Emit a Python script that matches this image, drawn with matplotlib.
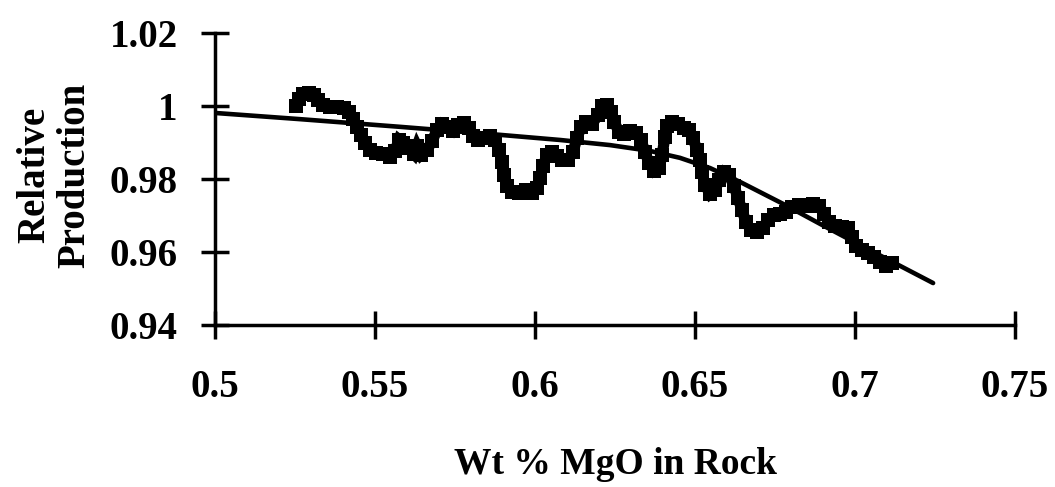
import matplotlib
matplotlib.use("Agg")
import matplotlib.pyplot as plt
import numpy as np

# Data (Wt % MgO vs relative production)
mgo = [0.5253, 0.5263, 0.5275, 0.5294, 0.5309, 0.5322, 0.5338, 0.5359, 0.5381, 0.5403,
       0.5419, 0.5431, 0.5444, 0.5456, 0.5469, 0.5484, 0.5503, 0.5525, 0.5547, 0.5563,
       0.5575, 0.5588, 0.5603, 0.5622, 0.5631, 0.5644, 0.5663, 0.5678, 0.5694, 0.5709,
       0.5728, 0.5744, 0.5759, 0.5778, 0.5794, 0.5806, 0.5822, 0.5841, 0.5859, 0.5875,
       0.5888, 0.5897, 0.5903, 0.5913, 0.5928, 0.5950, 0.5972, 0.5991, 0.6006, 0.6016,
       0.6025, 0.6038, 0.6053, 0.6069, 0.6084, 0.6103, 0.6119, 0.6131, 0.6144, 0.6159,
       0.6178, 0.6197, 0.6209, 0.6225, 0.6238, 0.6247, 0.6263, 0.6278, 0.6297, 0.6316,
       0.6331, 0.6344, 0.6356, 0.6372, 0.6388, 0.6397, 0.6406, 0.6413, 0.6428, 0.6447,
       0.6466, 0.6481, 0.6494, 0.6506, 0.6516, 0.6522, 0.6531, 0.6547, 0.6563, 0.6575,
       0.6591, 0.6606, 0.6622, 0.6634, 0.6647, 0.6659, 0.6675, 0.6694, 0.6713, 0.6728,
       0.6747, 0.6766, 0.6784, 0.6803, 0.6825, 0.6847, 0.6869, 0.6888, 0.6903, 0.6919,
       0.6938, 0.6959, 0.6978, 0.6991, 0.7003, 0.7022, 0.7041, 0.7059, 0.7078, 0.7097,
       0.7116]
production = [1.0000, 1.0019, 1.0033, 1.0036, 1.0030, 1.0016, 1.0003, 0.9997, 0.9997, 0.9995,
              0.9984, 0.9964, 0.9942, 0.9921, 0.9899, 0.9879, 0.9871, 0.9868, 0.9860, 0.9878,
              0.9908, 0.9899, 0.9885, 0.9868, 0.9890, 0.9866, 0.9880, 0.9904, 0.9934, 0.9951,
              0.9942, 0.9932, 0.9948, 0.9953, 0.9940, 0.9918, 0.9907, 0.9912, 0.9918, 0.9907,
              0.9879, 0.9847, 0.9811, 0.9781, 0.9764, 0.9762, 0.9770, 0.9762, 0.9775, 0.9803,
              0.9836, 0.9866, 0.9874, 0.9863, 0.9852, 0.9852, 0.9874, 0.9912, 0.9942, 0.9956,
              0.9951, 0.9975, 1.0000, 1.0003, 0.9984, 0.9956, 0.9929, 0.9923, 0.9932, 0.9926,
              0.9907, 0.9874, 0.9844, 0.9822, 0.9830, 0.9866, 0.9915, 0.9945, 0.9956, 0.9951,
              0.9940, 0.9934, 0.9912, 0.9879, 0.9852, 0.9819, 0.9784, 0.9759, 0.9770, 0.9797,
              0.9819, 0.9811, 0.9781, 0.9748, 0.9715, 0.9682, 0.9660, 0.9655, 0.9666, 0.9688,
              0.9701, 0.9704, 0.9710, 0.9723, 0.9729, 0.9726, 0.9732, 0.9726, 0.9704, 0.9682,
              0.9671, 0.9668, 0.9666, 0.9641, 0.9616, 0.9605, 0.9597, 0.9586, 0.9573, 0.9562,
              0.9570]

# Trend curve
trend_x = [0.5000, 0.5266, 0.5578, 0.5891, 0.6078, 0.6234, 0.6359, 0.6453, 0.6547,
           0.6641, 0.6775, 0.6891, 0.7016, 0.7141, 0.7244]
trend_y = [0.9981, 0.9964, 0.9943, 0.9921, 0.9907, 0.9893, 0.9877, 0.9858, 0.9830,
           0.9792, 0.9732, 0.9677, 0.9619, 0.9562, 0.9515]

xticks = [0.5, 0.55, 0.6, 0.65, 0.7, 0.75]
xticklabels = ["0.5", "0.55", "0.6", "0.65", "0.7", "0.75"]
yticks = [0.94, 0.96, 0.98, 1.0, 1.02]
yticklabels = ["0.94", "0.96", "0.98", "1", "1.02"]

plt.rcParams['font.family'] = ['Liberation Serif', 'DejaVu Serif']
plt.rcParams['font.weight'] = 'bold'

fig = plt.figure(figsize=(10.55, 4.87), dpi=100)
ax = fig.add_axes([0.2038, 0.3326, 0.7583, 0.5996])

ax.plot(mgo, production, color='black', lw=8, marker='s', markersize=10,
        markeredgewidth=0, solid_joinstyle='miter', solid_capstyle='butt', zorder=3)
ax.plot(trend_x, trend_y, color='black', lw=3.3, solid_capstyle='round',
        solid_joinstyle='round', zorder=4)

ax.set_xlim(0.5, 0.75)
ax.set_ylim(0.94, 1.02)
ax.set_xticks(xticks)
ax.set_xticklabels(xticklabels)
ax.set_yticks(yticks)
ax.set_yticklabels(yticklabels)

for s in ['top', 'right']:
    ax.spines[s].set_visible(False)
for s in ['left', 'bottom']:
    ax.spines[s].set_linewidth(2.5)

ax.tick_params(axis='both', direction='inout', length=20, width=2.5,
               labelsize=28)
ax.tick_params(axis='x', pad=22)
ax.tick_params(axis='y', pad=17)
for lab in ax.get_xticklabels() + ax.get_yticklabels():
    lab.set_fontweight('bold')

ax.set_xlabel("Wt % MgO in Rock", fontsize=27, fontweight='bold', labelpad=29)
fig.text(0.052, 0.64, "Relative\nProduction", rotation=90, fontsize=28,
         fontweight='bold', ha='center', va='center', linespacing=1.1,
         multialignment='center')

fig.savefig("out.png", dpi=100)
